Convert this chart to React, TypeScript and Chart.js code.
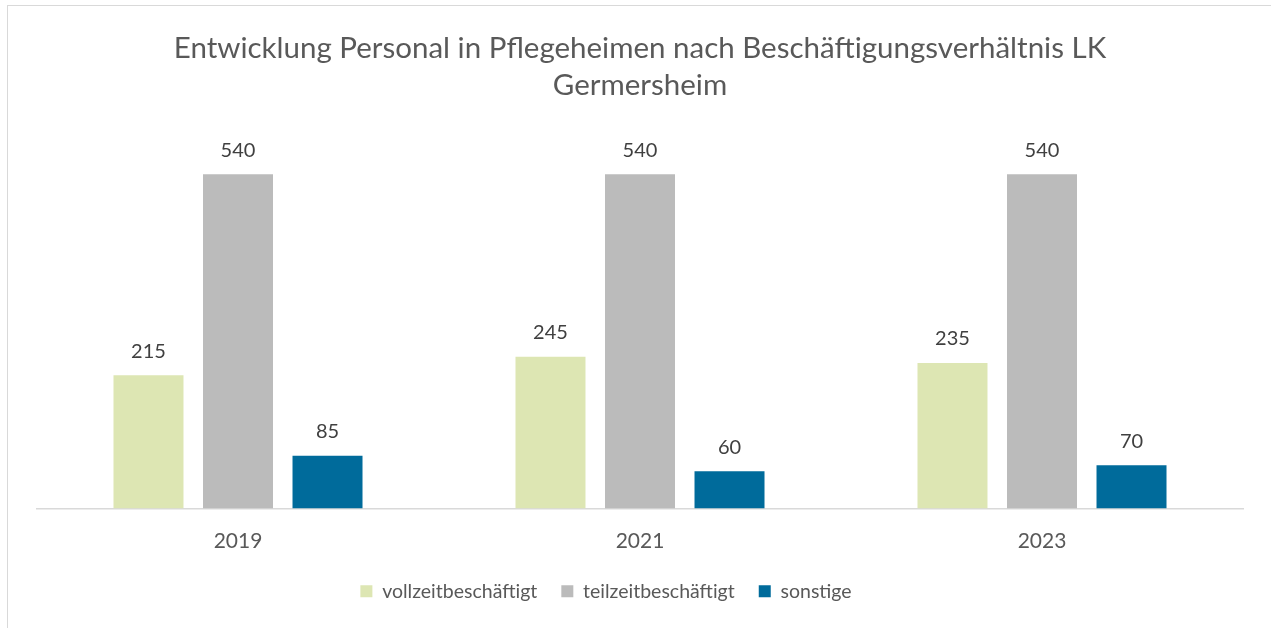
import React, { useEffect, useRef } from "react";
import { Chart, registerables } from "chart.js";

Chart.register(...registerables);

const titleLines = ["Entwicklung Personal in Pflegeheimen nach Beschäftigungsverhältnis LK", "Germersheim"];
const years = ["2019", "2021", "2023"];
const seriesNames = ["vollzeitbeschäftigt", "teilzeitbeschäftigt", "sonstige"];
const vollzeit = [215, 245, 235];
const teilzeit = [540, 540, 540];
const sonstige = [85, 60, 70];
const seriesColors = ["#DDE6B3", "#BBBBBB", "#006B9B"];

const FONT = "Lato, 'Liberation Sans', sans-serif";

const valueLabels = {
  id: "valueLabels",
  afterDatasetsDraw(chart: any) {
    const ctx = chart.ctx;
    ctx.save();
    ctx.font = `20px ${FONT}`;
    ctx.fillStyle = "#404040";
    ctx.textAlign = "center";
    ctx.textBaseline = "middle";
    chart.data.datasets.forEach((ds: any, i: number) => {
      const meta = chart.getDatasetMeta(i);
      meta.data.forEach((bar: any, j: number) => {
        ctx.fillText(String(ds.data[j]), bar.x, bar.y - 24);
      });
    });
    ctx.restore();
  },
};

const legendShift = {
  id: "legendShift",
  afterLayout(chart: any) {
    if (chart.legend) {
      chart.legend.left -= 34;
      chart.legend.right -= 34;
    }
  },
};

export default function App() {
  const ref = useRef<HTMLCanvasElement>(null);
  useEffect(() => {
    const chart = new Chart(ref.current!, {
      type: "bar",
      data: {
        labels: years,
        datasets: [vollzeit, teilzeit, sonstige].map((d, i) => ({
          label: seriesNames[i],
          data: d,
          backgroundColor: seriesColors[i],
          barPercentage: 0.782,
          categoryPercentage: 0.668,
        })),
      },
      options: {
        responsive: false,
        animation: false,
        layout: { padding: { left: 37, right: 28, top: 0, bottom: 17 } },
        scales: {
          x: {
            grid: { display: false, drawTicks: false },
            border: { display: true, color: "#D9D9D9", width: 1.5 },
            ticks: { font: { family: FONT, size: 21 }, color: "#595959", padding: 20 },
            afterFit: (scale: any) => {
              scale.height = 49;
            },
          },
          y: { display: false, min: 0, max: 600 },
        },
        plugins: {
          title: {
            display: true,
            text: titleLines,
            font: { family: FONT, size: 29.5, weight: "normal", lineHeight: 1.254 },
            color: "#595959",
            padding: { top: 29.5, bottom: 33.5 },
          },
          legend: {
            position: "bottom",
            labels: {
              font: { family: FONT, size: 19.5 },
              color: "#595959",
              boxWidth: 12,
              boxHeight: 12,
              padding: 24,
            },
          },
          tooltip: { enabled: false },
        },
      },
      plugins: [valueLabels, legendShift],
    });
    return () => chart.destroy();
  }, []);
  return (
    <div style={{ position: "fixed", left: 0, top: 0, width: 1271, height: 628, background: "#fff", overflow: "hidden" }}>
      <div style={{ position: "absolute", left: 7, top: 5, width: 1400, height: 800, border: "1.5px solid #D9D9D9" }} />
      <canvas ref={ref} width={1271} height={628} style={{ position: "absolute", left: 0, top: 0 }} />
    </div>
  );
}
